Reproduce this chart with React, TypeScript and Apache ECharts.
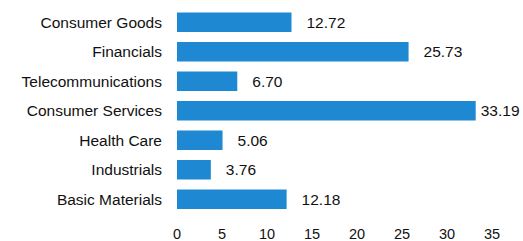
import React, { useEffect, useRef } from "react";
import * as echarts from "echarts";

const categories = [
  "Consumer Goods",
  "Financials",
  "Telecommunications",
  "Consumer Services",
  "Health Care",
  "Industrials",
  "Basic Materials",
];
const values = [12.72, 25.73, 6.7, 33.19, 5.06, 3.76, 12.18];
const axisMin = 0;
const axisMax = 35;
const axisStep = 5;

const FONT = "'Liberation Sans', Arial, sans-serif";
const TEXT = "#111111";

export default function App() {
  const ref = useRef<HTMLDivElement>(null);
  useEffect(() => {
    if (!ref.current) return;
    const chart = echarts.init(ref.current, undefined, { renderer: "svg" });
    const maxVal = Math.max(...values);
    chart.setOption({
      animation: false,
      backgroundColor: "#ffffff",
      grid: { left: 177, right: 31, top: 7.5, bottom: 25, containLabel: false },
      xAxis: {
        type: "value",
        min: axisMin,
        max: axisMax,
        interval: axisStep,
        axisLine: { show: false },
        axisTick: { show: false },
        splitLine: { show: false },
        axisLabel: { fontFamily: FONT, fontSize: 14.5, color: TEXT, margin: 12 },
      },
      yAxis: {
        type: "category",
        data: categories,
        inverse: true,
        axisLine: { show: false },
        axisTick: { show: false },
        splitLine: { show: false },
        axisLabel: { fontFamily: FONT, fontSize: 15.5, color: TEXT, margin: 15 },
      },
      series: [
        {
          type: "bar",
          barWidth: 19.5,
          itemStyle: { color: "#1e89d2" },
          data: values.map((v) => ({
            value: v,
            label: { distance: v === maxVal ? 5 : 15 },
          })),
          label: {
            show: true,
            position: "right",
            distance: 15,
            fontFamily: FONT,
            fontSize: 15.5,
            color: TEXT,
            formatter: (p: any) => Number(p.value).toFixed(2),
          },
        },
      ],
    });
    return () => chart.dispose();
  }, []);
  return (
    <div
      ref={ref}
      style={{ position: "fixed", left: 0, top: 0, width: 523, height: 241 }}
    />
  );
}
